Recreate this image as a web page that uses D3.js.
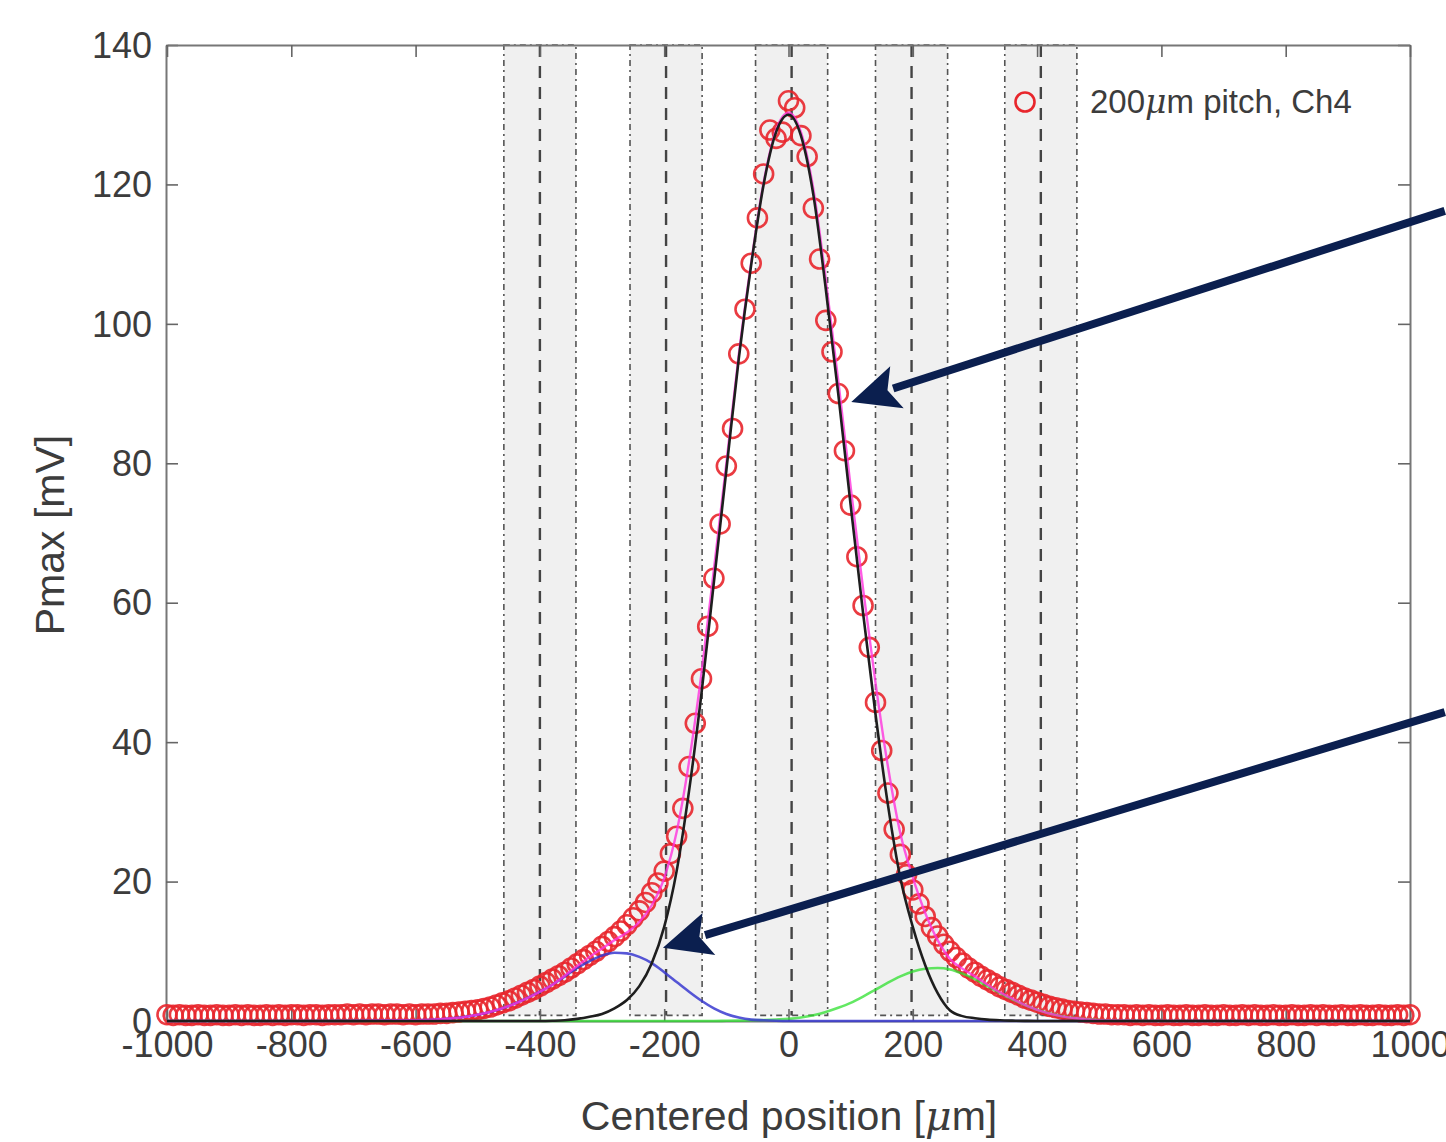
<!DOCTYPE html>
<html><head><meta charset="utf-8">
<script src="https://cdn.jsdelivr.net/npm/d3@7"></script>
<style>
body{margin:0;background:#fff}
text{font-family:"Liberation Sans",Arial,Helvetica,sans-serif;fill:#3c3c3c}
</style>
</head><body>
<svg id="chart" width="1446" height="1142"></svg>
<script>
// ---- data ----
const xTicks = [-1000,-800,-600,-400,-200,0,200,400,600,800,1000];
const xTickLabels = ["-1000","-800","-600","-400","-200","0","200","400","600","800","1000"];
const yTicks = [0,20,40,60,80,100,120,140];
const yTickLabels = ["0","20","40","60","80","100","120","140"];

// measured scan positions (µm)
const scanX = [-1000,-990,-980,-970,-960,-950,-940,-930,-920,-910,-900,-890,-880,-870,-860,-850,-840,-830,-820,-810,
-800,-790,-780,-770,-760,-750,-740,-730,-720,-710,-700,-690,-680,-670,-660,-650,-640,-630,-620,-610,
-600,-590,-580,-570,-560,-550,-540,-530,-520,-510,-500,-490,-480,-470,-460,-450,-440,-430,-420,-410,
-400,-390,-380,-370,-360,-350,-340,-330,-320,-310,-300,-290,-280,-270,-260,-250,-240,-230,-220,-210,
-200,-190,-180,-170,-160,-150,-140,-130,-120,-110,-100,-90,-80,-70,-60,-50,-40,-30,-20,-10,
0,10,20,30,40,50,60,70,80,90,100,110,120,130,140,150,160,170,180,190,
200,210,220,230,240,250,260,270,280,290,300,310,320,330,340,350,360,370,380,390,
400,410,420,430,440,450,460,470,480,490,500,510,520,530,540,550,560,570,580,590,
600,610,620,630,640,650,660,670,680,690,700,710,720,730,740,750,760,770,780,790,
800,810,820,830,840,850,860,870,880,890,900,910,920,930,940,950,960,970,980,990,1000];
// measured Pmax (mV), Ch4
const pmax = [0.9,0.8,0.9,0.8,0.8,0.9,0.8,0.8,0.9,0.8,0.8,0.9,0.8,0.9,0.8,0.8,0.9,0.8,0.9,0.8,
0.9,0.9,0.8,0.9,0.9,0.8,0.9,0.9,0.9,1.0,0.9,1.0,0.9,1.0,1.0,0.9,1.0,1.0,0.9,1.0,
0.9,1.0,1.0,1.0,1.1,1.1,1.2,1.3,1.4,1.5,1.6,1.8,2.0,2.3,2.6,2.9,3.3,3.7,4.1,4.5,
5.0,5.5,6.0,6.5,7.0,7.6,8.2,8.8,9.4,10.0,10.7,11.4,12.1,12.9,13.8,14.8,15.8,17.0,18.4,19.8,
21.5,24.0,26.5,30.5,36.5,42.7,49.1,56.6,63.5,71.3,79.6,85.0,95.7,102.1,108.7,115.2,121.5,127.8,126.6,127.5,
132.0,131.0,127.0,124.0,116.6,109.3,100.5,96.0,90.0,81.8,74.0,66.6,59.6,53.6,45.7,38.8,32.7,27.5,23.9,21.0,
18.8,16.8,15.0,13.4,12.2,11.0,10.0,9.1,8.3,7.6,7.0,6.4,5.9,5.4,4.9,4.5,4.1,3.7,3.3,3.0,
2.7,2.4,2.1,1.9,1.7,1.5,1.4,1.3,1.2,1.1,1.0,1.0,0.9,0.9,0.9,0.8,0.9,0.8,0.9,0.8,
0.8,0.9,0.8,0.8,0.9,0.8,0.8,0.9,0.8,0.8,0.9,0.8,0.8,0.9,0.8,0.9,0.8,0.8,0.9,0.8,
0.8,0.9,0.8,0.8,0.9,0.8,0.9,0.8,0.8,0.9,0.8,0.8,0.9,0.8,0.8,0.9,0.8,0.8,0.9,0.8,0.9];

// fitted curves, sampled
const fitX = [-1000,-900,-800,-700,-600,-560,-520,-480,-440,
-400,-380,-360,-340,-320,-300,-280,-260,-240,-220,-200,-180,-160,-140,-120,-100,-80,-60,-40,-20,
0,20,40,60,80,100,120,140,160,180,200,220,240,260,280,300,320,340,360,380,400,
440,480,520,560,600,700,800,900,1000];
const fitMain = [0,0,0,0,0,0,0,0,0,
0,0.03,0.1,0.3,0.6,1.0,1.8,3.0,5.0,8.3,13.5,21.5,33,47,63,79,95,108.5,120,127.5,
130,127,118.5,105,90,74,58.5,44,31,20.5,13.5,8.0,4.0,1.5,0.7,0.4,0.2,0.1,0.05,0.02,0,
0,0,0,0,0,0,0,0,0];
const fitLeft = [0,0,0,0.02,0.1,0.25,0.6,1.3,2.5,
4.2,5.2,6.4,7.6,8.6,9.4,9.8,9.7,9.2,8.3,7.0,5.6,4.2,2.9,1.8,1.0,0.5,0.2,0.1,0.03,
0,0,0,0,0,0,0,0,0,0,0,0,0,0,0,0,0,0,0,0,0,
0,0,0,0,0,0,0,0,0];
const fitRight = [0,0,0,0,0,0,0,0,0,
0,0,0,0,0,0,0,0,0,0,0,0,0,0,0,0.03,0.05,0.1,0.15,0.22,
0.31,0.5,0.84,1.3,1.9,2.6,3.5,4.5,5.5,6.4,7.1,7.5,7.6,7.4,6.8,6.0,5.0,4.0,3.1,2.3,1.6,
0.67,0.24,0.07,0.02,0,0,0,0,0];
const fitSum = [0,0,0,0.02,0.1,0.25,0.6,1.3,2.5,
4.2,5.2,6.5,7.9,9.2,10.4,11.6,12.7,14.2,16.6,20.5,27.1,37.2,49.9,64.8,80.0,95.6,108.8,120.3,127.8,
130.3,127.5,119.3,106.3,91.9,76.6,62.0,48.5,36.5,26.9,20.6,15.5,11.6,8.9,7.5,6.4,5.2,4.1,3.2,2.3,1.6,
0.67,0.24,0.07,0.02,0,0,0,0,0];

// strip bands (µm)
const bandLeft  = [-458,-255,-53,140,348];
const bandRight = [-342,-139,63,256,464];
const bandMid   = [-400,-197,5,198,406];

const legendLabel = "200";
// annotation arrows: [startX, startY, tipX, tipY] in data units
const arrows = [[1056,116.2,101,88.8],[1056,44.3,-202,10.5]];

// ---- drawing ----
const svg = d3.select("#chart");
const L=166, R=1410, T=45, B=1021;
const x = d3.scaleLinear().domain([-1000,1000]).range([L+1,R]);
const y = d3.scaleLinear().domain([0,140]).range([B,T]);

svg.append("rect").attr("width",1446).attr("height",1142).attr("fill","#fff");

// bands
const bands = svg.append("g");
bandLeft.forEach((bl,i)=>{
  bands.append("rect").attr("x",x(bl)).attr("y",y(140)).attr("width",x(bandRight[i])-x(bl))
    .attr("height",y(0.8)-y(140)).attr("fill","#f0f0f0")
    .attr("stroke","#555").attr("stroke-width",1.6).attr("stroke-dasharray","6,4,2,4");
  bands.append("line").attr("x1",x(bandMid[i])).attr("x2",x(bandMid[i]))
    .attr("y1",y(140)).attr("y2",y(0.8)).attr("stroke","#444").attr("stroke-width",2.4)
    .attr("stroke-dasharray","12,9");
});

// axes box
const ax = svg.append("g").attr("class","axes");
const yAxis = d3.axisLeft(y).tickValues(yTicks).tickFormat((d,i)=>yTickLabels[i]).tickSizeInner(-12).tickSizeOuter(0).tickPadding(14);
const yAxisR = d3.axisRight(y).tickValues(yTicks).tickSizeInner(-12).tickSizeOuter(0).tickFormat("");
const xAxis = d3.axisBottom(x).tickValues(xTicks).tickFormat((d,i)=>xTickLabels[i]).tickSizeInner(-12).tickSizeOuter(0).tickPadding(10);
const xAxisT = d3.axisTop(x).tickValues(xTicks).tickSizeInner(-12).tickSizeOuter(0).tickFormat("");
const gy = ax.append("g").attr("transform",`translate(${L},0)`).call(yAxis);
const gyr = ax.append("g").attr("transform",`translate(${R},0)`).call(yAxisR);
const gx = ax.append("g").attr("transform",`translate(0,${B})`).call(xAxis);
const gxt = ax.append("g").attr("transform",`translate(0,${T})`).call(xAxisT);
[gy,gyr,gx,gxt].forEach(g=>{
  g.select(".domain").attr("stroke","#777").attr("stroke-width",2);
  g.selectAll(".tick line").attr("stroke","#666").attr("stroke-width",1.6);
  g.selectAll(".tick text").attr("font-size",36).attr("fill","#3c3c3c")
   .attr("font-family","'Liberation Sans',Arial,sans-serif");
});
gy.selectAll(".tick text").attr("dy","0.34em");

const line = (ys)=>d3.line().x((d,i)=>x(fitX[i])).y((d,i)=>y(ys[i])).curve(d3.curveMonotoneX)(ys);

// data circles
const circles = svg.append("g");
circles.selectAll("circle").data(pmax).join("circle")
  .attr("cx",(d,i)=>x(scanX[i])).attr("cy",d=>y(d)).attr("r",9.5)
  .attr("fill","none").attr("stroke","#e8262c").attr("stroke-width",2.6).attr("stroke-opacity",0.9);

// curves
svg.append("path").attr("d",line(fitRight)).attr("fill","none").attr("stroke","#2fe02f").attr("stroke-width",2.6).attr("opacity",0.75);
svg.append("path").attr("d",line(fitLeft)).attr("fill","none").attr("stroke","#3a3ad0").attr("stroke-width",2.6).attr("opacity",0.85);
svg.append("path").attr("d",line(fitSum)).attr("fill","none").attr("stroke","#ff33dd").attr("stroke-width",2.4).attr("opacity",0.8);
svg.append("path").attr("d",line(fitMain)).attr("fill","none").attr("stroke","#1e1e1e").attr("stroke-width",2.6);

// legend
svg.append("circle").attr("cx",1025).attr("cy",102).attr("r",9.5).attr("fill","none")
  .attr("stroke","#e8262c").attr("stroke-width",2.6);
const lt = svg.append("text").attr("x",1090).attr("y",113).attr("font-size",33).attr("fill","#333");
lt.append("tspan").text(legendLabel);
lt.append("tspan").attr("font-style","italic").attr("font-family","'DejaVu Serif',serif").text("μ");
lt.append("tspan").text("m pitch, Ch4");

// axis titles
const xt = svg.append("text").attr("x",789).attr("y",1130).attr("text-anchor","middle").attr("font-size",41).attr("fill","#3c3c3c");
xt.append("tspan").text("Centered position [");
xt.append("tspan").attr("font-style","italic").attr("font-family","'DejaVu Serif',serif").text("μ");
xt.append("tspan").text("m]");
svg.append("text").attr("transform","translate(64,535) rotate(-90)").attr("text-anchor","middle")
  .attr("font-size",41).attr("fill","#3c3c3c").text("Pmax [mV]");

// arrows
const ag = svg.append("g");
arrows.forEach(a=>{
  const x0=x(a[0]), y0=y(a[1]), x1=x(a[2]), y1=y(a[3]);
  const ang=Math.atan2(y1-y0,x1-x0), hl=48, hw=22;
  const bx=x1-hl*Math.cos(ang), by=y1-hl*Math.sin(ang);
  ag.append("line").attr("x1",x0).attr("y1",y0).attr("x2",bx+4*Math.cos(ang)).attr("y2",by+4*Math.sin(ang))
    .attr("stroke","#0b1f4f").attr("stroke-width",8);
  const px=-Math.sin(ang), py=Math.cos(ang);
  ag.append("path").attr("d",`M${x1},${y1}L${bx+hw*px},${by+hw*py}L${bx+10*Math.cos(ang)},${by+10*Math.sin(ang)}L${bx-hw*px},${by-hw*py}Z`)
    .attr("fill","#0b1f4f");
});
</script>
</body></html>
